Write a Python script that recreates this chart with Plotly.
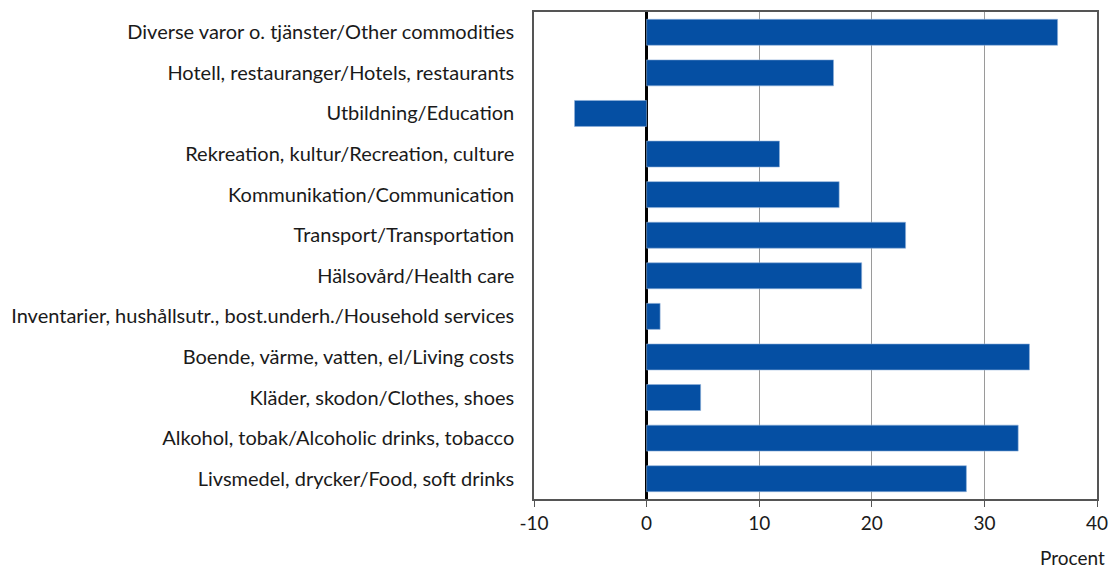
import plotly.graph_objects as go

categories = [
    "Livsmedel, drycker/Food, soft drinks",
    "Alkohol, tobak/Alcoholic drinks, tobacco",
    "Kläder, skodon/Clothes, shoes",
    "Boende, värme, vatten, el/Living costs",
    "Inventarier, hushållsutr., bost.underh./Household services",
    "Hälsovård/Health care",
    "Transport/Transportation",
    "Kommunikation/Communication",
    "Rekreation, kultur/Recreation, culture",
    "Utbildning/Education",
    "Hotell, restauranger/Hotels, restaurants",
    "Diverse varor o. tjänster/Other commodities",
]
values = [28.4, 33.0, 4.8, 34.0, 1.2, 19.1, 23.0, 17.1, 11.8, -6.4, 16.6, 36.5]
x_ticks = [-10, 0, 10, 20, 30, 40]

FONT = "Lato, 'Open Sans', sans-serif"

fig = go.Figure(go.Bar(
    y=categories, x=values, orientation="h",
    marker=dict(color="#054FA3", line=dict(color="#8FB0DA", width=0.6)),
))

fig.update_layout(
    width=1110, height=569,
    margin=dict(l=534, r=13, t=12, b=70),
    paper_bgcolor="white", plot_bgcolor="white",
    bargap=0.36,
    showlegend=False,
    font=dict(family=FONT, size=20, color="#1a1a1a"),
    xaxis=dict(
        range=[-10, 40], tickvals=x_ticks, ticktext=[str(v) for v in x_ticks],
        automargin=False,
        showgrid=True, gridcolor="#9a9a9a", gridwidth=1,
        zeroline=True, zerolinecolor="black", zerolinewidth=2.5,
        showline=True, linecolor="#555555", linewidth=1.5, mirror=True,
        ticks="outside", ticklen=6, tickcolor="#555555",
        tickfont=dict(size=19),
    ),
    yaxis=dict(
        categoryorder="array", categoryarray=categories,
        automargin=False,
        showline=True, linecolor="#555555", linewidth=1.5, mirror=True,
        showgrid=False, ticks="", ticklabelstandoff=14,
        tickfont=dict(size=20),
    ),
    annotations=[dict(
        text="Procent", xref="paper", yref="paper", x=1.0, y=0,
        xanchor="right", yanchor="middle", yshift=-58, xshift=10,
        showarrow=False, font=dict(size=19, family=FONT),
    )],
)

# remove the browser's default 8px body margin so the figure fills the window
fig.write_html(
    "out.html",
    config={"displayModeBar": False},
    post_script="document.body.style.margin='0';document.body.style.overflow='hidden';",
)
